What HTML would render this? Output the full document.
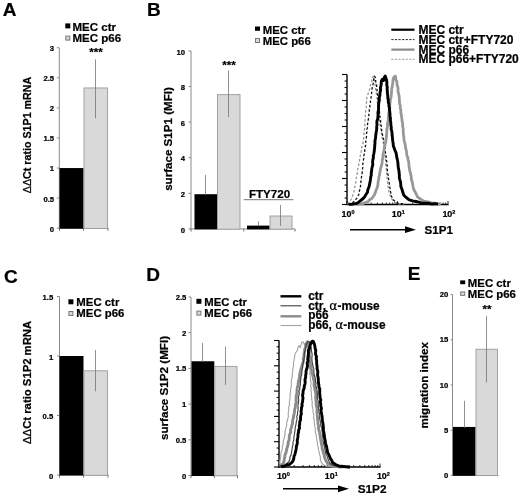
<!DOCTYPE html>
<html><head><meta charset="utf-8"><title>Figure</title>
<style>
html,body{margin:0;padding:0;background:#fff;overflow:hidden;}
svg{display:block;filter:blur(0.35px);font-family:"Liberation Sans",sans-serif;fill:#000;}
svg text{stroke:#000;stroke-width:0.22px;}
</style></head><body>
<svg width="520" height="497" viewBox="0 0 520 497">
<rect x="0" y="0" width="520" height="497" fill="#fff"/>
<text x="2.7" y="15.9" font-size="19" text-anchor="start" font-weight="bold" >A</text>
<text x="146.9" y="16.3" font-size="19" text-anchor="start" font-weight="bold" >B</text>
<text x="3.9" y="282.7" font-size="19" text-anchor="start" font-weight="bold" >C</text>
<text x="146.3" y="280.7" font-size="19" text-anchor="start" font-weight="bold" >D</text>
<text x="407.7" y="280.1" font-size="19" text-anchor="start" font-weight="bold" >E</text>
<line x1="59.3" y1="47.8" x2="59.3" y2="228.7" stroke="#8a8a8a" stroke-width="1" />
<line x1="59.3" y1="228.2" x2="108.5" y2="228.2" stroke="#8a8a8a" stroke-width="1" />
<line x1="56.8" y1="228.2" x2="59.3" y2="228.2" stroke="#8a8a8a" stroke-width="1" />
<text x="54.099" y="231.6" font-size="7.7" text-anchor="end" font-weight="bold" >0</text>
<line x1="56.8" y1="198.125" x2="59.3" y2="198.125" stroke="#8a8a8a" stroke-width="1" />
<text x="54.099" y="201.525" font-size="7.7" text-anchor="end" font-weight="bold" >0.5</text>
<line x1="56.8" y1="168.049" x2="59.3" y2="168.049" stroke="#8a8a8a" stroke-width="1" />
<text x="54.099" y="171.45" font-size="7.7" text-anchor="end" font-weight="bold" >1</text>
<line x1="56.8" y1="137.975" x2="59.3" y2="137.975" stroke="#8a8a8a" stroke-width="1" />
<text x="54.099" y="141.375" font-size="7.7" text-anchor="end" font-weight="bold" >1.5</text>
<line x1="56.8" y1="107.899" x2="59.3" y2="107.899" stroke="#8a8a8a" stroke-width="1" />
<text x="54.099" y="111.3" font-size="7.7" text-anchor="end" font-weight="bold" >2</text>
<line x1="56.8" y1="77.824" x2="59.3" y2="77.824" stroke="#8a8a8a" stroke-width="1" />
<text x="54.099" y="81.225" font-size="7.7" text-anchor="end" font-weight="bold" >2.5</text>
<line x1="56.8" y1="47.75" x2="59.3" y2="47.75" stroke="#8a8a8a" stroke-width="1" />
<text x="54.099" y="51.15" font-size="7.7" text-anchor="end" font-weight="bold" >3</text>
<line x1="59.5" y1="228.2" x2="59.5" y2="230.799" stroke="#6e6e6e" stroke-width="1" />
<line x1="83.5" y1="228.2" x2="83.5" y2="230.799" stroke="#6e6e6e" stroke-width="1" />
<line x1="108" y1="228.2" x2="108" y2="230.799" stroke="#6e6e6e" stroke-width="1" />
<rect x="59.5" y="168.049" width="24.0" height="60.650" fill="#000"/>
<rect x="84.0" y="87.949" width="23.5" height="140.551" fill="#d9d9d9" stroke="#9a9a9a" stroke-width="0.9"/>
<line x1="95.5" y1="59.3" x2="95.5" y2="118.3" stroke="#757575" stroke-width="0.8" />
<rect x="65.3" y="23.4" width="5" height="5" fill="#000"/>
<rect x="65.8" y="36.1" width="4" height="4" fill="#d9d9d9" stroke="#777" stroke-width="1"/>
<text x="72.5" y="30.9" font-size="11.5" text-anchor="start" font-weight="bold" >MEC ctr</text>
<text x="72.5" y="42.2" font-size="11.5" text-anchor="start" font-weight="bold" >MEC p66</text>
<text x="96" y="56.2" font-size="11.6" text-anchor="middle" font-weight="bold" >***</text>
<text transform="translate(31.0,135) rotate(-90)" font-size="10.7" text-anchor="middle" font-weight="bold"><tspan font-weight="normal">ΔΔ</tspan>Ct ratio S1P1 mRNA</text>
<line x1="191" y1="50.9" x2="191" y2="229.4" stroke="#8a8a8a" stroke-width="1" />
<line x1="191" y1="228.9" x2="295" y2="228.9" stroke="#8a8a8a" stroke-width="1" />
<line x1="188.5" y1="228.9" x2="191" y2="228.9" stroke="#8a8a8a" stroke-width="1" />
<text x="185.1" y="232.6" font-size="7.7" text-anchor="end" font-weight="bold" >0</text>
<line x1="188.5" y1="193.3" x2="191" y2="193.3" stroke="#8a8a8a" stroke-width="1" />
<text x="185.1" y="197.0" font-size="7.7" text-anchor="end" font-weight="bold" >2</text>
<line x1="188.5" y1="157.7" x2="191" y2="157.7" stroke="#8a8a8a" stroke-width="1" />
<text x="185.1" y="161.399" font-size="7.7" text-anchor="end" font-weight="bold" >4</text>
<line x1="188.5" y1="122.1" x2="191" y2="122.1" stroke="#8a8a8a" stroke-width="1" />
<text x="185.1" y="125.8" font-size="7.7" text-anchor="end" font-weight="bold" >6</text>
<line x1="188.5" y1="86.5" x2="191" y2="86.5" stroke="#8a8a8a" stroke-width="1" />
<text x="185.1" y="90.2" font-size="7.7" text-anchor="end" font-weight="bold" >8</text>
<line x1="188.5" y1="50.900" x2="191" y2="50.900" stroke="#8a8a8a" stroke-width="1" />
<text x="185.1" y="54.600" font-size="7.7" text-anchor="end" font-weight="bold" >10</text>
<line x1="191" y1="228.9" x2="191" y2="231.5" stroke="#6e6e6e" stroke-width="1" />
<line x1="243.75" y1="228.9" x2="243.75" y2="231.5" stroke="#6e6e6e" stroke-width="1" />
<line x1="295" y1="228.9" x2="295" y2="231.5" stroke="#6e6e6e" stroke-width="1" />
<rect x="194.5" y="194.19" width="22.5" height="35.210" fill="#000"/>
<line x1="205.5" y1="175" x2="205.5" y2="195" stroke="#757575" stroke-width="0.8" />
<rect x="217.5" y="94.654" width="22.5" height="134.546" fill="#d9d9d9" stroke="#9a9a9a" stroke-width="0.9"/>
<line x1="228.5" y1="70.5" x2="228.5" y2="117" stroke="#757575" stroke-width="0.8" />
<rect x="247" y="225.6" width="22.5" height="3.800" fill="#000"/>
<line x1="258.5" y1="221.3" x2="258.5" y2="226" stroke="#757575" stroke-width="0.8" />
<rect x="270.0" y="216.0" width="22.0" height="13.200" fill="#d9d9d9" stroke="#9a9a9a" stroke-width="0.9"/>
<line x1="280.5" y1="205" x2="280.5" y2="226" stroke="#757575" stroke-width="0.8" />
<rect x="255" y="26.5" width="5" height="4.3" fill="#000"/>
<rect x="255.5" y="38.5" width="4" height="4" fill="#d9d9d9" stroke="#777" stroke-width="1"/>
<text x="262.8" y="33.5" font-size="11.35" text-anchor="start" font-weight="bold" >MEC ctr</text>
<text x="262.8" y="44.6" font-size="11.35" text-anchor="start" font-weight="bold" >MEC p66</text>
<text x="229" y="69" font-size="11.6" text-anchor="middle" font-weight="bold" >***</text>
<text transform="translate(172.3,139) rotate(-90)" font-size="11.6" text-anchor="middle" font-weight="bold">surface S1P1 (MFI)</text>
<text x="269.5" y="197.8" font-size="11.6" text-anchor="middle" font-weight="bold" >FTY720</text>
<line x1="243.75" y1="199.7" x2="293.3" y2="199.7" stroke="#777" stroke-width="1" />
<line x1="59.5" y1="296.5" x2="59.5" y2="475.5" stroke="#8a8a8a" stroke-width="1" />
<line x1="59.5" y1="475" x2="108.5" y2="475" stroke="#8a8a8a" stroke-width="1" />
<line x1="57.0" y1="475" x2="59.5" y2="475" stroke="#8a8a8a" stroke-width="1" />
<text x="53.2" y="478.6" font-size="7.7" text-anchor="end" font-weight="bold" >0</text>
<line x1="57.0" y1="415.5" x2="59.5" y2="415.5" stroke="#8a8a8a" stroke-width="1" />
<text x="53.2" y="419.1" font-size="7.7" text-anchor="end" font-weight="bold" >0.5</text>
<line x1="57.0" y1="356.0" x2="59.5" y2="356.0" stroke="#8a8a8a" stroke-width="1" />
<text x="53.2" y="359.6" font-size="7.7" text-anchor="end" font-weight="bold" >1</text>
<line x1="57.0" y1="296.5" x2="59.5" y2="296.5" stroke="#8a8a8a" stroke-width="1" />
<text x="53.2" y="300.1" font-size="7.7" text-anchor="end" font-weight="bold" >1.5</text>
<line x1="59.5" y1="475" x2="59.5" y2="477.6" stroke="#6e6e6e" stroke-width="1" />
<line x1="83.5" y1="475" x2="83.5" y2="477.6" stroke="#6e6e6e" stroke-width="1" />
<line x1="108" y1="475" x2="108" y2="477.6" stroke="#6e6e6e" stroke-width="1" />
<rect x="59.5" y="356.0" width="24.0" height="119.5" fill="#000"/>
<rect x="84.0" y="370.78" width="23.5" height="104.520" fill="#d9d9d9" stroke="#9a9a9a" stroke-width="0.9"/>
<line x1="95.5" y1="350" x2="95.5" y2="391.3" stroke="#757575" stroke-width="0.8" />
<rect x="68.4" y="299.3" width="5" height="5" fill="#000"/>
<rect x="68.9" y="311.5" width="4" height="4" fill="#d9d9d9" stroke="#777" stroke-width="1"/>
<text x="76.3" y="306.1" font-size="11.4" text-anchor="start" font-weight="bold" >MEC ctr</text>
<text x="76.3" y="317.1" font-size="11.4" text-anchor="start" font-weight="bold" >MEC p66</text>
<text transform="translate(31.2,382.4) rotate(-90)" font-size="11.3" text-anchor="middle" font-weight="bold"><tspan font-weight="normal">ΔΔ</tspan>Ct ratio S1P2 mRNA</text>
<line x1="191" y1="297" x2="191" y2="476.0" stroke="#8a8a8a" stroke-width="1" />
<line x1="191" y1="475.5" x2="238" y2="475.5" stroke="#8a8a8a" stroke-width="1" />
<line x1="188.5" y1="475.5" x2="191" y2="475.5" stroke="#8a8a8a" stroke-width="1" />
<text x="186.4" y="478.5" font-size="7.7" text-anchor="end" font-weight="bold" >0</text>
<line x1="188.5" y1="439.8" x2="191" y2="439.8" stroke="#8a8a8a" stroke-width="1" />
<text x="186.4" y="442.8" font-size="7.7" text-anchor="end" font-weight="bold" >0.5</text>
<line x1="188.5" y1="404.1" x2="191" y2="404.1" stroke="#8a8a8a" stroke-width="1" />
<text x="186.4" y="407.1" font-size="7.7" text-anchor="end" font-weight="bold" >1</text>
<line x1="188.5" y1="368.4" x2="191" y2="368.4" stroke="#8a8a8a" stroke-width="1" />
<text x="186.4" y="371.4" font-size="7.7" text-anchor="end" font-weight="bold" >1.5</text>
<line x1="188.5" y1="332.7" x2="191" y2="332.7" stroke="#8a8a8a" stroke-width="1" />
<text x="186.4" y="335.7" font-size="7.7" text-anchor="end" font-weight="bold" >2</text>
<line x1="188.5" y1="297.0" x2="191" y2="297.0" stroke="#8a8a8a" stroke-width="1" />
<text x="186.4" y="300.0" font-size="7.7" text-anchor="end" font-weight="bold" >2.5</text>
<line x1="191" y1="475.5" x2="191" y2="478.1" stroke="#6e6e6e" stroke-width="1" />
<line x1="214.3" y1="475.5" x2="214.3" y2="478.1" stroke="#6e6e6e" stroke-width="1" />
<line x1="237.5" y1="475.5" x2="237.5" y2="478.1" stroke="#6e6e6e" stroke-width="1" />
<rect x="191.5" y="361.26" width="22.800" height="114.740" fill="#000"/>
<line x1="202.5" y1="343" x2="202.5" y2="362" stroke="#757575" stroke-width="0.8" />
<rect x="214.8" y="366.401" width="22.199" height="109.398" fill="#d9d9d9" stroke="#9a9a9a" stroke-width="0.9"/>
<line x1="225.5" y1="346.8" x2="225.5" y2="385" stroke="#757575" stroke-width="0.8" />
<rect x="196.4" y="298.8" width="5" height="5" fill="#000"/>
<rect x="196.9" y="311.1" width="4" height="4" fill="#d9d9d9" stroke="#777" stroke-width="1"/>
<text x="204.3" y="306.2" font-size="11.3" text-anchor="start" font-weight="bold" >MEC ctr</text>
<text x="204.3" y="317.0" font-size="11.3" text-anchor="start" font-weight="bold" >MEC p66</text>
<text transform="translate(168.1,388) rotate(-90)" font-size="11.65" text-anchor="middle" font-weight="bold">surface S1P2 (MFI)</text>
<line x1="452.5" y1="294.5" x2="452.5" y2="475.8" stroke="#8a8a8a" stroke-width="1" />
<line x1="452.5" y1="475.3" x2="498.5" y2="475.3" stroke="#8a8a8a" stroke-width="1" />
<line x1="450.7" y1="475.3" x2="452.5" y2="475.3" stroke="#8a8a8a" stroke-width="1" />
<text x="448.4" y="477.900" font-size="7.7" text-anchor="end" font-weight="bold" >0</text>
<line x1="450.7" y1="430.1" x2="452.5" y2="430.1" stroke="#8a8a8a" stroke-width="1" />
<text x="448.4" y="432.700" font-size="7.7" text-anchor="end" font-weight="bold" >5</text>
<line x1="450.7" y1="384.900" x2="452.5" y2="384.900" stroke="#8a8a8a" stroke-width="1" />
<text x="448.4" y="387.500" font-size="7.7" text-anchor="end" font-weight="bold" >10</text>
<line x1="450.7" y1="339.700" x2="452.5" y2="339.700" stroke="#8a8a8a" stroke-width="1" />
<text x="448.4" y="342.300" font-size="7.7" text-anchor="end" font-weight="bold" >15</text>
<line x1="450.7" y1="294.5" x2="452.5" y2="294.5" stroke="#8a8a8a" stroke-width="1" />
<text x="448.4" y="297.1" font-size="7.7" text-anchor="end" font-weight="bold" >20</text>
<rect x="453" y="426.936" width="22.5" height="48.863" fill="#000"/>
<line x1="464.5" y1="400.8" x2="464.5" y2="428" stroke="#757575" stroke-width="0.8" />
<rect x="476.0" y="349.24" width="21.5" height="126.36" fill="#d9d9d9" stroke="#9a9a9a" stroke-width="0.9"/>
<line x1="486.5" y1="315.8" x2="486.5" y2="382.5" stroke="#757575" stroke-width="0.8" />
<rect x="460.2" y="280.4" width="5" height="3.8" fill="#000"/>
<rect x="460.7" y="291.9" width="4" height="3.5" fill="#d9d9d9" stroke="#777" stroke-width="1"/>
<text x="467.8" y="287.0" font-size="11.4" text-anchor="start" font-weight="bold" >MEC ctr</text>
<text x="467.8" y="298.3" font-size="11.4" text-anchor="start" font-weight="bold" >MEC p66</text>
<text x="487" y="313.1" font-size="11.6" text-anchor="middle" font-weight="bold" >**</text>
<text transform="translate(428.3,385.3) rotate(-90)" font-size="11.6" text-anchor="middle" font-weight="bold">migration index</text>
<line x1="347" y1="74.5" x2="347" y2="205.0" stroke="#000" stroke-width="1.4" />
<line x1="346.5" y1="204.5" x2="448.5" y2="204.5" stroke="#000" stroke-width="1.3" />
<line x1="342" y1="74.5" x2="347" y2="74.5" stroke="#000" stroke-width="1.1" />
<line x1="344.6" y1="81.0" x2="347" y2="81.0" stroke="#000" stroke-width="1" />
<line x1="344.6" y1="87.5" x2="347" y2="87.5" stroke="#000" stroke-width="1" />
<line x1="344.6" y1="94.0" x2="347" y2="94.0" stroke="#000" stroke-width="1" />
<line x1="342" y1="100.5" x2="347" y2="100.5" stroke="#000" stroke-width="1.1" />
<line x1="344.6" y1="107.0" x2="347" y2="107.0" stroke="#000" stroke-width="1" />
<line x1="344.6" y1="113.5" x2="347" y2="113.5" stroke="#000" stroke-width="1" />
<line x1="344.6" y1="120.0" x2="347" y2="120.0" stroke="#000" stroke-width="1" />
<line x1="342" y1="126.5" x2="347" y2="126.5" stroke="#000" stroke-width="1.1" />
<line x1="344.6" y1="133.0" x2="347" y2="133.0" stroke="#000" stroke-width="1" />
<line x1="344.6" y1="139.5" x2="347" y2="139.5" stroke="#000" stroke-width="1" />
<line x1="344.6" y1="146.0" x2="347" y2="146.0" stroke="#000" stroke-width="1" />
<line x1="342" y1="152.5" x2="347" y2="152.5" stroke="#000" stroke-width="1.1" />
<line x1="344.6" y1="159.0" x2="347" y2="159.0" stroke="#000" stroke-width="1" />
<line x1="344.6" y1="165.5" x2="347" y2="165.5" stroke="#000" stroke-width="1" />
<line x1="344.6" y1="172.0" x2="347" y2="172.0" stroke="#000" stroke-width="1" />
<line x1="342" y1="178.5" x2="347" y2="178.5" stroke="#000" stroke-width="1.1" />
<line x1="344.6" y1="185.0" x2="347" y2="185.0" stroke="#000" stroke-width="1" />
<line x1="344.6" y1="191.5" x2="347" y2="191.5" stroke="#000" stroke-width="1" />
<line x1="344.6" y1="198.0" x2="347" y2="198.0" stroke="#000" stroke-width="1" />
<line x1="342" y1="204.5" x2="347" y2="204.5" stroke="#000" stroke-width="1.1" />
<line x1="347.0" y1="201.0" x2="347.0" y2="204.5" stroke="#000" stroke-width="0.8" />
<line x1="362.202" y1="202.5" x2="362.202" y2="204.5" stroke="#000" stroke-width="0.8" />
<line x1="371.094" y1="202.5" x2="371.094" y2="204.5" stroke="#000" stroke-width="0.8" />
<line x1="377.404" y1="202.5" x2="377.404" y2="204.5" stroke="#000" stroke-width="0.8" />
<line x1="382.297" y1="202.5" x2="382.297" y2="204.5" stroke="#000" stroke-width="0.8" />
<line x1="386.296" y1="202.5" x2="386.296" y2="204.5" stroke="#000" stroke-width="0.8" />
<line x1="389.677" y1="202.5" x2="389.677" y2="204.5" stroke="#000" stroke-width="0.8" />
<line x1="392.606" y1="202.5" x2="392.606" y2="204.5" stroke="#000" stroke-width="0.8" />
<line x1="395.189" y1="202.5" x2="395.189" y2="204.5" stroke="#000" stroke-width="0.8" />
<line x1="397.5" y1="201.0" x2="397.5" y2="204.5" stroke="#000" stroke-width="0.8" />
<line x1="412.702" y1="202.5" x2="412.702" y2="204.5" stroke="#000" stroke-width="0.8" />
<line x1="421.594" y1="202.5" x2="421.594" y2="204.5" stroke="#000" stroke-width="0.8" />
<line x1="427.904" y1="202.5" x2="427.904" y2="204.5" stroke="#000" stroke-width="0.8" />
<line x1="432.797" y1="202.5" x2="432.797" y2="204.5" stroke="#000" stroke-width="0.8" />
<line x1="436.796" y1="202.5" x2="436.796" y2="204.5" stroke="#000" stroke-width="0.8" />
<line x1="440.177" y1="202.5" x2="440.177" y2="204.5" stroke="#000" stroke-width="0.8" />
<line x1="443.106" y1="202.5" x2="443.106" y2="204.5" stroke="#000" stroke-width="0.8" />
<line x1="445.689" y1="202.5" x2="445.689" y2="204.5" stroke="#000" stroke-width="0.8" />
<line x1="448" y1="201.0" x2="448" y2="204.5" stroke="#000" stroke-width="0.8" />
<text x="341.6" y="217.3" font-size="8.9" font-weight="bold">10<tspan dy="-3" font-size="5.5">0</tspan></text>
<text x="391.8" y="217.3" font-size="8.9" font-weight="bold">10<tspan dy="-3" font-size="5.5">1</tspan></text>
<text x="442.4" y="217.3" font-size="8.9" font-weight="bold">10<tspan dy="-3" font-size="5.5">2</tspan></text>
<path d="M347.5,204.2 L347.7,203.7 L348.6,202.8 L350.1,201.0 L351.6,198.4 L352.3,196.7 L353.0,194.6 L353.9,192.2 L354.1,190.2 L354.7,188.7 L355.0,186.4 L355.6,184.1 L355.9,181.9 L356.0,179.3 L356.5,177.2 L356.8,175.2 L357.3,173.0 L357.7,170.8 L357.8,168.6 L358.5,166.5 L358.7,164.4 L359.1,162.0 L359.6,160.1 L359.7,158.0 L360.2,156.2 L360.7,153.6 L361.3,151.4 L361.4,149.7 L361.7,147.5 L362.1,145.7 L362.8,143.8 L363.2,141.8 L363.4,140.0 L363.7,137.7 L364.0,136.0 L364.0,133.9 L364.0,131.8 L364.5,129.6 L364.9,126.2 L364.8,124.7 L364.7,122.7 L365.0,120.4 L365.1,118.5 L365.3,115.9 L365.6,113.9 L365.6,111.3 L366.0,109.2 L366.3,106.9 L366.2,104.6 L366.4,102.9 L366.9,100.9 L366.6,99.5 L367.2,96.0 L367.9,94.6 L368.3,93.0 L368.9,91.2 L369.7,89.2 L370.0,87.0 L370.6,84.6 L371.2,83.1 L372.0,80.2 L372.5,77.4 L373.0,76.4 L373.8,77.5 L374.7,81.8 L375.0,83.2 L375.0,84.9 L375.3,86.7 L375.6,88.9 L376.1,90.6 L376.2,93.0 L376.6,95.3 L377.2,98.4 L377.2,99.9 L377.2,101.5 L377.6,103.6 L378.1,105.7 L377.9,108.3 L378.4,110.1 L378.7,112.3 L378.9,115.0 L379.4,117.1 L379.3,119.1 L379.5,121.3 L379.9,123.2 L380.0,124.6 L380.5,126.5 L380.9,129.7 L381.3,132.0 L381.4,133.7 L381.8,135.3 L382.1,137.9 L382.5,139.8 L383.1,141.5 L383.4,143.7 L383.7,145.3 L383.7,147.3 L384.0,149.4 L384.5,151.9 L384.9,153.8 L385.1,156.1 L385.0,158.1 L385.6,160.2 L385.7,162.3 L385.6,164.6 L385.9,166.8 L386.4,168.8 L386.3,171.3 L386.6,173.0 L386.5,175.0 L387.1,177.2 L387.0,179.7 L387.7,182.1 L387.7,184.3 L387.9,186.2 L388.6,188.6 L388.7,190.6 L389.0,192.2 L389.9,194.7 L390.4,196.6 L391.4,198.4 L392.5,200.2 L393.7,202.0 L395.6,203.0 L397.7,203.8 L400.1,204.1 L402.4,204.1 L404.0,204.2" fill="none" stroke="#8e8e8e" stroke-width="1.2" stroke-linejoin="round" stroke-linecap="butt" stroke-dasharray="2.6 1.9"/>
<path d="M348.0,204.2 L349.9,203.6 L352.4,202.8 L353.6,201.9 L355.1,200.2 L356.7,198.4 L357.6,196.7 L358.6,195.0 L359.2,192.0 L359.6,190.2 L360.2,188.5 L360.4,186.6 L360.8,184.3 L360.9,182.0 L361.2,179.6 L361.5,177.0 L361.7,175.3 L362.1,173.3 L362.5,170.9 L362.5,169.0 L362.9,166.4 L362.8,164.3 L363.1,162.0 L363.3,160.1 L363.9,158.1 L363.8,156.1 L364.4,153.6 L364.7,151.8 L364.7,149.8 L365.0,147.5 L365.6,145.8 L365.4,143.7 L365.8,141.8 L365.8,139.9 L366.4,137.5 L366.5,135.8 L366.4,133.8 L366.9,131.9 L366.9,129.6 L367.6,126.5 L367.5,124.6 L367.7,123.1 L368.0,120.8 L368.4,119.1 L368.8,116.6 L368.8,114.7 L369.3,112.4 L369.3,109.8 L369.9,107.8 L369.8,105.9 L370.4,103.7 L370.4,101.8 L370.6,100.0 L371.0,98.1 L371.4,95.6 L371.6,92.8 L372.0,90.7 L372.1,88.7 L372.3,87.0 L372.7,85.5 L373.1,83.9 L373.6,80.3 L374.0,77.4 L374.5,76.1 L375.4,77.7 L375.8,82.0 L376.4,83.2 L376.6,85.0 L376.6,87.0 L376.8,88.7 L377.2,91.0 L377.3,93.2 L377.8,95.6 L378.0,98.1 L378.0,99.7 L378.2,101.9 L378.5,103.6 L378.7,106.0 L379.3,108.1 L379.3,110.1 L379.5,112.5 L379.7,114.8 L380.0,117.2 L380.7,119.1 L380.5,121.4 L380.8,123.0 L380.9,124.7 L381.3,126.3 L381.6,129.6 L381.9,131.7 L382.3,133.6 L382.6,135.3 L383.2,137.9 L383.6,139.7 L384.0,141.6 L384.3,143.6 L384.4,145.3 L385.0,147.3 L385.2,149.6 L385.2,151.8 L385.9,153.9 L386.1,156.2 L386.1,158.0 L386.5,160.3 L386.9,162.4 L387.0,164.7 L387.3,166.8 L387.3,168.7 L387.4,171.0 L387.7,173.3 L388.1,175.2 L388.4,177.1 L388.6,179.3 L389.1,182.1 L389.3,184.3 L389.6,186.3 L390.0,188.4 L390.0,190.2 L390.6,191.9 L391.2,195.1 L391.7,196.7 L392.6,198.5 L393.8,200.3 L395.1,201.6 L396.6,202.9 L398.9,203.5 L401.2,203.6 L403.2,203.9 L405.0,204.2" fill="none" stroke="#111" stroke-width="1.3" stroke-linejoin="round" stroke-linecap="butt" stroke-dasharray="2.6 1.9"/>
<path d="M356.0,204.2 L357.6,204.2 L359.6,203.9 L361.9,203.8 L364.0,203.1 L366.2,202.2 L368.2,201.5 L369.5,199.8 L371.6,198.7 L373.1,196.6 L374.3,195.1 L375.5,192.0 L376.0,190.4 L377.0,188.3 L377.4,186.5 L378.0,184.4 L378.0,182.2 L378.7,179.2 L378.9,177.0 L379.5,175.0 L379.7,173.0 L380.2,171.2 L380.4,168.9 L381.3,166.3 L381.8,164.5 L382.2,162.0 L382.2,159.9 L383.0,158.0 L382.9,156.0 L383.3,153.5 L383.6,151.8 L384.1,149.8 L384.4,147.4 L384.9,145.4 L385.1,144.0 L385.7,142.0 L385.9,140.2 L386.4,137.8 L386.5,135.5 L386.6,133.9 L386.9,131.9 L386.8,129.1 L387.6,126.1 L387.5,124.6 L387.6,123.1 L388.2,120.8 L388.3,118.8 L388.5,116.7 L388.6,114.3 L388.9,112.5 L389.3,109.9 L389.8,108.1 L389.8,105.4 L389.9,103.3 L390.3,101.4 L390.4,99.7 L390.8,98.4 L391.3,95.3 L391.4,93.0 L391.6,90.7 L391.6,88.8 L392.3,87.0 L392.3,85.6 L392.7,83.8 L392.9,80.4 L393.6,77.7 L394.6,76.5 L395.5,76.2 L396.0,80.1 L396.8,81.3 L396.9,82.6 L397.1,84.9 L397.7,86.8 L398.1,88.5 L397.9,90.7 L398.5,93.3 L399.1,95.8 L399.3,98.4 L399.4,100.0 L399.4,102.0 L399.8,104.1 L400.3,105.8 L400.3,108.0 L400.9,110.4 L400.8,112.3 L401.4,114.8 L401.5,116.8 L401.9,118.7 L402.0,121.0 L402.6,122.9 L402.8,124.5 L402.5,125.8 L403.3,129.3 L403.1,131.1 L403.4,133.2 L403.5,134.7 L403.9,137.3 L403.9,138.7 L404.3,141.1 L404.9,143.3 L405.4,146.0 L405.6,147.9 L406.2,150.1 L406.5,151.8 L406.7,154.5 L407.2,156.4 L407.8,157.7 L408.2,160.4 L408.8,162.4 L408.8,163.9 L409.1,166.4 L409.4,168.0 L409.7,170.5 L410.5,173.0 L410.8,175.2 L411.3,176.9 L411.3,179.6 L412.1,181.4 L412.6,183.9 L413.0,186.2 L413.4,188.1 L414.1,190.2 L415.1,191.8 L416.5,194.7 L417.6,197.0 L419.6,198.4 L421.3,199.7 L423.9,201.0 L426.2,201.5 L429.1,202.1 L431.3,203.1 L434.0,203.1 L436.2,203.5 L439.4,204.0 L441.0,204.3" fill="none" stroke="#989898" stroke-width="2.8" stroke-linejoin="round" stroke-linecap="butt"/>
<path d="M349.0,204.2 L351.2,204.4 L353.8,203.8 L356.9,203.4 L358.2,202.5 L359.9,201.1 L361.3,200.0 L363.2,198.5 L364.9,196.4 L365.8,194.8 L367.5,192.3 L367.7,190.2 L368.3,188.6 L369.1,186.4 L369.5,184.6 L370.0,182.4 L370.4,179.7 L370.7,177.2 L371.3,175.2 L371.2,173.5 L371.6,171.0 L371.7,169.0 L372.2,167.0 L372.8,164.7 L372.6,162.0 L372.8,160.0 L373.4,157.9 L373.3,156.0 L373.8,153.8 L374.2,151.8 L374.4,149.3 L374.7,147.4 L374.7,145.5 L375.0,143.5 L374.9,141.7 L375.1,140.2 L375.6,137.6 L375.7,136.1 L375.9,133.7 L376.3,131.9 L376.7,129.2 L376.7,126.5 L377.1,125.0 L376.8,122.8 L377.0,120.8 L377.7,119.1 L377.9,116.8 L378.1,114.7 L377.9,112.6 L378.5,110.0 L378.6,108.1 L378.5,105.8 L378.7,103.6 L379.0,101.8 L379.4,99.7 L379.2,98.1 L379.9,95.2 L380.0,92.6 L380.6,90.3 L380.4,87.7 L380.9,85.8 L381.3,83.7 L381.2,82.4 L381.5,80.9 L382.1,79.5 L382.5,79.6 L382.9,80.0 L383.6,80.5 L384.1,77.8 L385.2,76.0 L385.6,77.0 L386.6,80.2 L386.7,81.6 L386.9,82.8 L386.7,84.8 L387.3,87.1 L387.1,89.0 L387.4,91.2 L387.4,93.3 L387.8,96.0 L387.8,98.0 L388.4,100.2 L388.2,101.6 L388.9,104.2 L388.9,105.7 L389.4,108.1 L389.6,110.3 L389.8,112.1 L390.0,114.2 L390.0,116.6 L390.5,118.1 L390.3,119.9 L390.8,122.5 L390.8,124.7 L391.3,127.3 L391.1,129.1 L391.7,130.8 L392.0,132.8 L392.1,135.0 L392.4,137.2 L392.6,139.6 L392.9,141.9 L393.2,143.8 L393.3,145.9 L394.0,147.5 L394.8,150.0 L395.3,151.1 L396.1,152.9 L396.6,156.0 L396.8,157.6 L397.3,159.2 L397.7,161.3 L398.0,163.9 L398.1,165.8 L398.4,168.3 L398.9,170.5 L399.2,173.3 L399.4,175.3 L399.3,177.3 L399.9,179.8 L400.5,181.8 L400.8,184.6 L400.8,186.4 L401.6,188.3 L402.2,190.2 L402.7,191.8 L403.5,194.5 L404.4,195.8 L405.8,197.1 L407.1,198.2 L408.8,199.6 L410.9,200.3 L412.6,200.9 L414.7,201.3 L417.1,201.7 L419.4,202.3 L421.4,202.8 L423.4,203.2 L425.9,203.1 L428.2,203.3 L430.5,203.7 L432.5,204.0 L434.7,203.8 L436.8,203.9 L438.0,204.3" fill="none" stroke="#000" stroke-width="2.9" stroke-linejoin="round" stroke-linecap="butt"/>
<line x1="350" y1="229.7" x2="410" y2="229.7" stroke="#000" stroke-width="1.6" />
<polygon points="416,229.7 405,226.299 405,233.1" fill="#000"/>
<text x="424.5" y="233.5" font-size="11.6" text-anchor="start" font-weight="bold" >S1P1</text>
<line x1="391.3" y1="29.7" x2="414.5" y2="29.7" stroke="#000" stroke-width="2.2" />
<line x1="391.3" y1="39.6" x2="414.5" y2="39.6" stroke="#222" stroke-width="1" stroke-dasharray="2.2 1.4"/>
<line x1="391.3" y1="49.6" x2="414.5" y2="49.6" stroke="#8a8a8a" stroke-width="2.2" />
<line x1="391.3" y1="59.3" x2="414.5" y2="59.3" stroke="#999" stroke-width="1" stroke-dasharray="2.2 1.4"/>
<text x="418.4" y="34.2" font-size="12" text-anchor="start" font-weight="bold" >MEC ctr</text>
<text x="418.4" y="44.1" font-size="12" text-anchor="start" font-weight="bold" >MEC ctr+FTY720</text>
<text x="418.4" y="53.9" font-size="12" text-anchor="start" font-weight="bold" >MEC p66</text>
<text x="418.4" y="63.4" font-size="12" text-anchor="start" font-weight="bold" >MEC p66+FTY720</text>
<line x1="279" y1="340.5" x2="279" y2="467.5" stroke="#000" stroke-width="1.4" />
<line x1="278.5" y1="467" x2="380.5" y2="467" stroke="#000" stroke-width="1.3" />
<line x1="274" y1="340.5" x2="279" y2="340.5" stroke="#000" stroke-width="1.1" />
<line x1="276.6" y1="346.825" x2="279" y2="346.825" stroke="#000" stroke-width="1" />
<line x1="276.6" y1="353.15" x2="279" y2="353.15" stroke="#000" stroke-width="1" />
<line x1="276.6" y1="359.475" x2="279" y2="359.475" stroke="#000" stroke-width="1" />
<line x1="274" y1="365.8" x2="279" y2="365.8" stroke="#000" stroke-width="1.1" />
<line x1="276.6" y1="372.125" x2="279" y2="372.125" stroke="#000" stroke-width="1" />
<line x1="276.6" y1="378.450" x2="279" y2="378.450" stroke="#000" stroke-width="1" />
<line x1="276.6" y1="384.775" x2="279" y2="384.775" stroke="#000" stroke-width="1" />
<line x1="274" y1="391.1" x2="279" y2="391.1" stroke="#000" stroke-width="1.1" />
<line x1="276.6" y1="397.425" x2="279" y2="397.425" stroke="#000" stroke-width="1" />
<line x1="276.6" y1="403.75" x2="279" y2="403.75" stroke="#000" stroke-width="1" />
<line x1="276.6" y1="410.075" x2="279" y2="410.075" stroke="#000" stroke-width="1" />
<line x1="274" y1="416.4" x2="279" y2="416.4" stroke="#000" stroke-width="1.1" />
<line x1="276.6" y1="422.724" x2="279" y2="422.724" stroke="#000" stroke-width="1" />
<line x1="276.6" y1="429.049" x2="279" y2="429.049" stroke="#000" stroke-width="1" />
<line x1="276.6" y1="435.375" x2="279" y2="435.375" stroke="#000" stroke-width="1" />
<line x1="274" y1="441.7" x2="279" y2="441.7" stroke="#000" stroke-width="1.1" />
<line x1="276.6" y1="448.025" x2="279" y2="448.025" stroke="#000" stroke-width="1" />
<line x1="276.6" y1="454.35" x2="279" y2="454.35" stroke="#000" stroke-width="1" />
<line x1="276.6" y1="460.675" x2="279" y2="460.675" stroke="#000" stroke-width="1" />
<line x1="274" y1="467" x2="279" y2="467" stroke="#000" stroke-width="1.1" />
<line x1="279.0" y1="463.5" x2="279.0" y2="467" stroke="#000" stroke-width="0.8" />
<line x1="294.202" y1="465" x2="294.202" y2="467" stroke="#000" stroke-width="0.8" />
<line x1="303.094" y1="465" x2="303.094" y2="467" stroke="#000" stroke-width="0.8" />
<line x1="309.404" y1="465" x2="309.404" y2="467" stroke="#000" stroke-width="0.8" />
<line x1="314.297" y1="465" x2="314.297" y2="467" stroke="#000" stroke-width="0.8" />
<line x1="318.296" y1="465" x2="318.296" y2="467" stroke="#000" stroke-width="0.8" />
<line x1="321.677" y1="465" x2="321.677" y2="467" stroke="#000" stroke-width="0.8" />
<line x1="324.606" y1="465" x2="324.606" y2="467" stroke="#000" stroke-width="0.8" />
<line x1="327.189" y1="465" x2="327.189" y2="467" stroke="#000" stroke-width="0.8" />
<line x1="329.5" y1="463.5" x2="329.5" y2="467" stroke="#000" stroke-width="0.8" />
<line x1="344.702" y1="465" x2="344.702" y2="467" stroke="#000" stroke-width="0.8" />
<line x1="353.594" y1="465" x2="353.594" y2="467" stroke="#000" stroke-width="0.8" />
<line x1="359.904" y1="465" x2="359.904" y2="467" stroke="#000" stroke-width="0.8" />
<line x1="364.797" y1="465" x2="364.797" y2="467" stroke="#000" stroke-width="0.8" />
<line x1="368.796" y1="465" x2="368.796" y2="467" stroke="#000" stroke-width="0.8" />
<line x1="372.177" y1="465" x2="372.177" y2="467" stroke="#000" stroke-width="0.8" />
<line x1="375.106" y1="465" x2="375.106" y2="467" stroke="#000" stroke-width="0.8" />
<line x1="377.689" y1="465" x2="377.689" y2="467" stroke="#000" stroke-width="0.8" />
<line x1="380" y1="463.5" x2="380" y2="467" stroke="#000" stroke-width="0.8" />
<text x="276.9" y="478.5" font-size="8.9" font-weight="bold">10<tspan dy="-3" font-size="5.5">0</tspan></text>
<text x="324.8" y="478.5" font-size="8.9" font-weight="bold">10<tspan dy="-3" font-size="5.5">1</tspan></text>
<text x="376.9" y="478.5" font-size="8.9" font-weight="bold">10<tspan dy="-3" font-size="5.5">2</tspan></text>
<path d="M279.5,464.0 L279.9,462.1 L280.2,460.0 L280.7,456.4 L280.8,454.3 L281.0,452.5 L281.8,450.7 L282.2,448.9 L282.4,446.3 L283.2,444.0 L283.2,442.2 L283.6,440.2 L284.1,438.3 L284.7,436.0 L285.0,434.1 L285.0,432.4 L285.5,429.8 L285.7,428.1 L286.6,426.2 L286.7,423.9 L286.7,422.2 L287.5,420.0 L287.9,418.1 L288.4,416.3 L288.2,414.3 L288.3,412.2 L288.8,410.1 L288.7,408.6 L288.8,406.5 L289.6,404.2 L289.3,402.5 L289.7,400.4 L290.1,397.8 L290.0,395.9 L290.0,394.2 L290.7,391.9 L290.4,389.8 L291.1,387.2 L291.4,385.0 L291.2,382.5 L291.4,380.4 L291.7,378.9 L292.1,377.2 L292.4,374.2 L292.6,372.1 L292.9,370.1 L292.8,368.3 L293.5,366.4 L293.6,364.7 L293.4,362.4 L293.9,361.1 L294.2,358.9 L294.7,356.6 L294.8,354.6 L295.6,352.6 L296.4,351.9 L297.0,351.2 L297.6,349.3 L298.0,347.2 L298.8,345.7 L299.3,345.6 L299.7,347.2 L300.3,347.7 L300.7,346.3 L301.4,343.2 L301.9,342.0 L303.1,342.1 L303.9,343.5 L304.2,344.6 L305.2,343.4 L306.2,342.3 L306.4,342.7 L307.8,345.3 L307.4,346.3 L307.7,347.9 L308.4,350.5 L308.5,352.8 L308.7,354.9 L308.5,357.2 L309.2,359.8 L309.0,361.7 L309.0,363.5 L309.3,365.8 L309.5,367.5 L310.1,369.7 L310.1,371.8 L309.7,373.8 L310.2,376.1 L310.2,378.1 L310.5,379.8 L310.9,381.7 L311.0,383.9 L310.6,386.0 L311.3,388.6 L310.9,390.4 L311.4,392.6 L311.3,394.4 L311.6,396.6 L311.7,398.6 L311.8,399.8 L312.3,402.3 L312.1,404.5 L312.3,406.6 L312.9,408.5 L313.0,410.1 L313.0,412.0 L313.6,413.7 L313.8,415.7 L313.6,417.8 L314.3,420.0 L314.2,422.2 L314.4,424.0 L314.8,426.2 L315.3,428.1 L315.3,429.9 L315.4,432.3 L316.1,434.3 L316.1,436.1 L316.8,438.3 L316.7,440.2 L317.6,442.1 L317.4,444.2 L318.2,446.8 L318.2,448.4 L318.7,450.7 L319.3,452.6 L319.5,454.4 L320.3,456.5 L320.4,459.7 L320.9,461.5 L322.3,463.6 L323.9,465.0 L325.8,466.1 L327.3,466.2 L329.3,466.3 L331.9,467.0 L334.0,466.9 L336.4,466.9 L338.6,467.0 L341.3,467.0 L343.8,466.9 L345.0,467.0" fill="none" stroke="#a2a2a2" stroke-width="1.1" stroke-linejoin="round" stroke-linecap="butt"/>
<path d="M279.5,466.3 L280.2,465.9 L280.9,464.8 L282.2,464.9 L283.2,463.6 L283.9,461.8 L284.3,459.3 L284.8,456.4 L285.0,454.6 L286.0,453.0 L286.4,450.6 L286.8,448.6 L287.5,446.5 L288.1,444.7 L288.1,442.4 L289.1,440.2 L289.2,438.6 L289.3,436.2 L289.7,434.3 L290.8,432.1 L290.5,430.1 L291.2,428.2 L291.7,426.1 L292.4,423.9 L292.5,422.1 L292.8,419.9 L293.4,417.9 L293.6,416.2 L294.2,413.6 L294.5,411.7 L294.6,409.8 L295.2,408.2 L295.4,405.9 L295.6,404.2 L296.4,402.0 L296.0,400.2 L296.3,397.5 L296.2,395.7 L297.0,393.4 L297.0,391.0 L297.0,389.4 L297.4,387.2 L298.1,385.3 L298.2,382.9 L298.6,380.7 L299.2,378.9 L299.6,376.8 L299.6,374.8 L300.2,372.7 L300.4,371.0 L301.1,368.6 L301.7,366.8 L302.2,365.0 L302.8,362.9 L303.5,360.8 L303.2,358.5 L304.2,356.2 L303.9,354.2 L304.6,351.6 L304.6,349.6 L305.6,346.7 L305.7,344.7 L306.5,343.0 L307.4,341.7 L308.5,343.0 L308.5,346.3 L309.1,347.7 L309.3,349.7 L309.5,351.8 L309.2,354.0 L309.7,356.5 L309.8,359.0 L310.1,360.7 L310.1,362.7 L310.6,364.8 L311.0,366.9 L311.4,369.2 L311.9,371.4 L311.9,373.4 L312.7,375.1 L313.2,377.3 L313.3,378.9 L314.1,380.7 L314.2,383.2 L314.0,385.2 L314.8,387.4 L314.8,389.4 L315.2,391.0 L315.8,392.9 L315.8,395.6 L315.7,398.0 L315.9,399.9 L316.2,402.2 L316.1,403.9 L316.4,406.2 L316.9,407.9 L317.1,409.8 L317.0,411.6 L317.2,414.4 L317.5,416.0 L317.5,417.6 L317.6,419.8 L318.1,422.0 L317.9,424.0 L318.8,426.0 L318.4,427.8 L318.7,429.8 L319.7,432.2 L319.8,434.4 L320.3,436.3 L320.4,438.3 L320.8,440.3 L321.1,442.1 L321.5,444.3 L322.1,446.2 L322.1,448.3 L323.0,451.1 L323.4,452.7 L324.1,454.9 L324.3,456.1 L325.0,458.6 L325.9,460.5 L327.1,462.5 L327.6,463.5 L330.1,464.7 L333.2,465.9 L335.4,466.2 L337.6,466.4 L339.8,467.0 L342.3,466.7 L344.2,466.5 L346.7,466.6 L348.3,466.6 L350.0,467.0" fill="none" stroke="#8c8c8c" stroke-width="2.9" stroke-linejoin="round" stroke-linecap="butt"/>
<path d="M279.5,466.5 L280.6,466.3 L282.7,465.9 L285.1,465.1 L287.4,463.0 L288.9,461.5 L289.8,459.1 L290.1,456.5 L291.1,454.9 L291.5,452.5 L291.8,451.0 L292.1,449.0 L292.4,446.9 L293.1,444.0 L292.9,442.4 L293.9,439.9 L293.8,438.4 L294.0,436.5 L294.5,433.8 L294.7,432.1 L295.1,430.2 L295.1,428.2 L295.6,426.1 L296.1,423.8 L296.2,422.0 L297.0,419.9 L297.0,417.5 L296.8,416.2 L297.6,414.3 L297.5,411.9 L298.2,410.1 L298.0,407.9 L298.0,406.4 L298.1,404.1 L298.4,402.3 L298.8,399.8 L298.3,397.6 L298.8,395.6 L299.3,393.6 L298.9,391.3 L299.8,389.3 L299.8,386.9 L300.3,385.3 L300.4,383.4 L300.4,380.7 L300.9,379.2 L300.9,377.2 L301.7,374.8 L301.8,373.1 L302.0,370.7 L302.1,369.1 L302.8,366.9 L302.6,365.2 L303.4,362.8 L303.6,361.0 L304.2,358.4 L304.2,356.1 L304.4,353.6 L304.7,352.0 L305.2,350.1 L305.9,347.0 L306.3,344.3 L307.6,342.9 L307.7,341.9 L309.0,341.5 L309.6,342.2 L310.2,343.6 L310.2,345.9 L311.2,347.4 L311.3,349.5 L311.7,351.9 L312.1,354.2 L312.1,356.4 L311.8,357.9 L312.0,360.3 L312.2,362.6 L312.8,365.1 L313.1,367.1 L313.8,368.4 L313.9,370.8 L313.9,373.3 L314.4,375.0 L315.0,377.4 L315.3,378.9 L315.4,380.8 L316.1,383.4 L315.8,384.7 L316.1,387.0 L316.9,389.4 L317.1,390.6 L317.3,393.4 L317.5,395.9 L317.2,397.5 L318.0,400.3 L318.2,401.9 L318.4,404.2 L318.2,406.0 L318.5,407.7 L318.9,409.6 L318.9,411.5 L319.5,413.6 L319.8,415.5 L319.6,418.0 L320.0,420.1 L320.8,422.1 L320.6,423.8 L320.9,426.3 L321.8,428.1 L321.8,429.9 L322.3,432.1 L322.4,433.8 L322.4,435.8 L323.1,438.3 L322.9,440.6 L323.4,442.2 L323.7,444.2 L324.7,446.4 L324.7,448.7 L325.3,451.1 L325.7,453.2 L326.1,455.0 L327.1,456.1 L328.1,459.2 L329.1,461.4 L330.4,463.8 L332.9,465.3 L334.7,465.6 L337.2,465.8 L339.3,466.3 L342.4,466.2 L344.2,466.6 L346.1,466.4 L349.2,466.9 L351.2,466.9 L353.8,466.7 L355.0,467.0" fill="none" stroke="#3c3c3c" stroke-width="1.1" stroke-linejoin="round" stroke-linecap="butt"/>
<path d="M281.0,466.8 L282.4,466.3 L283.7,466.5 L285.6,465.5 L286.7,464.7 L289.2,464.6 L291.0,463.2 L292.4,461.9 L293.6,459.4 L294.1,456.0 L294.9,454.6 L295.3,452.5 L295.8,450.7 L296.2,449.0 L296.4,446.1 L297.1,444.4 L297.4,442.1 L297.2,440.5 L297.7,438.0 L298.0,436.3 L298.0,434.1 L298.6,432.1 L298.6,430.2 L299.5,428.3 L299.3,426.1 L299.7,424.1 L299.7,422.1 L300.6,419.7 L300.5,417.7 L300.8,415.4 L301.4,413.8 L301.0,411.5 L301.4,410.1 L301.5,407.6 L302.2,405.8 L301.9,404.1 L302.5,402.1 L302.8,399.6 L303.0,397.9 L302.5,395.3 L303.0,393.7 L303.0,391.7 L303.6,389.4 L304.2,388.3 L304.3,386.1 L305.0,383.8 L305.2,382.4 L305.0,379.6 L305.7,377.0 L305.6,375.6 L306.1,373.2 L306.0,371.2 L306.5,369.6 L307.2,367.5 L307.5,365.3 L307.1,363.0 L308.1,361.3 L307.7,358.7 L308.2,356.4 L308.3,354.1 L308.5,352.4 L308.3,350.3 L309.3,349.2 L310.0,345.6 L310.7,343.8 L311.9,341.5 L312.8,341.1 L313.7,342.0 L314.3,344.3 L314.8,345.6 L315.2,348.9 L315.8,350.4 L315.5,352.5 L315.6,354.4 L316.5,356.5 L316.2,358.7 L316.7,360.6 L316.6,362.7 L316.9,364.9 L317.1,366.8 L317.1,369.0 L317.8,371.1 L317.7,373.1 L317.6,375.2 L318.0,377.0 L318.3,379.0 L318.3,380.8 L318.5,383.1 L318.9,385.1 L318.9,387.0 L319.8,388.8 L319.7,391.0 L319.7,393.6 L320.0,395.7 L320.0,397.4 L320.8,399.9 L320.3,401.9 L320.8,404.2 L320.7,405.9 L321.5,408.2 L321.0,409.7 L321.3,411.9 L321.7,414.3 L322.0,415.8 L322.2,417.9 L322.4,419.7 L322.7,421.9 L323.0,423.6 L323.2,425.6 L323.4,428.1 L323.5,430.4 L323.8,432.0 L324.2,434.4 L324.4,436.1 L324.6,438.2 L325.2,440.1 L325.3,442.3 L325.8,444.2 L326.6,446.8 L326.9,448.6 L327.2,450.6 L327.7,452.9 L328.7,454.3 L329.5,456.2 L330.6,458.9 L331.8,460.4 L332.5,462.5 L333.3,463.0 L336.0,464.8 L338.3,465.7 L339.5,466.4 L341.0,466.3 L343.6,466.5 L345.9,466.9 L348.2,467.0 L350.0,467.0" fill="none" stroke="#000" stroke-width="2.9" stroke-linejoin="round" stroke-linecap="butt"/>
<line x1="283" y1="488.8" x2="343" y2="488.8" stroke="#000" stroke-width="1.6" />
<polygon points="349,488.8 338,485.400 338,492.2" fill="#000"/>
<text x="357.7" y="492.6" font-size="11.8" text-anchor="start" font-weight="bold" >S1P2</text>
<line x1="280.5" y1="296.3" x2="301.3" y2="296.3" stroke="#000" stroke-width="2.4" />
<line x1="280.5" y1="305.8" x2="301.3" y2="305.8" stroke="#3c3c3c" stroke-width="1.1" />
<line x1="280.5" y1="316.3" x2="301.3" y2="316.3" stroke="#8c8c8c" stroke-width="2.4" />
<line x1="280.5" y1="325.5" x2="301.3" y2="325.5" stroke="#a2a2a2" stroke-width="1.1" />
<text x="308.2" y="300" font-size="11.85" text-anchor="start" font-weight="bold" >ctr</text>
<text x="308.2" y="309.6" font-size="11.85" text-anchor="start" font-weight="bold" >ctr, <tspan font-weight="normal" font-size="12.4" font-family="DejaVu Sans, sans-serif">α</tspan>-mouse</text>
<text x="308.2" y="319.3" font-size="11.85" text-anchor="start" font-weight="bold" >p66</text>
<text x="308.2" y="328.8" font-size="11.85" text-anchor="start" font-weight="bold" >p66, <tspan font-weight="normal" font-size="12.4" font-family="DejaVu Sans, sans-serif">α</tspan>-mouse</text>
</svg>
</body></html>
